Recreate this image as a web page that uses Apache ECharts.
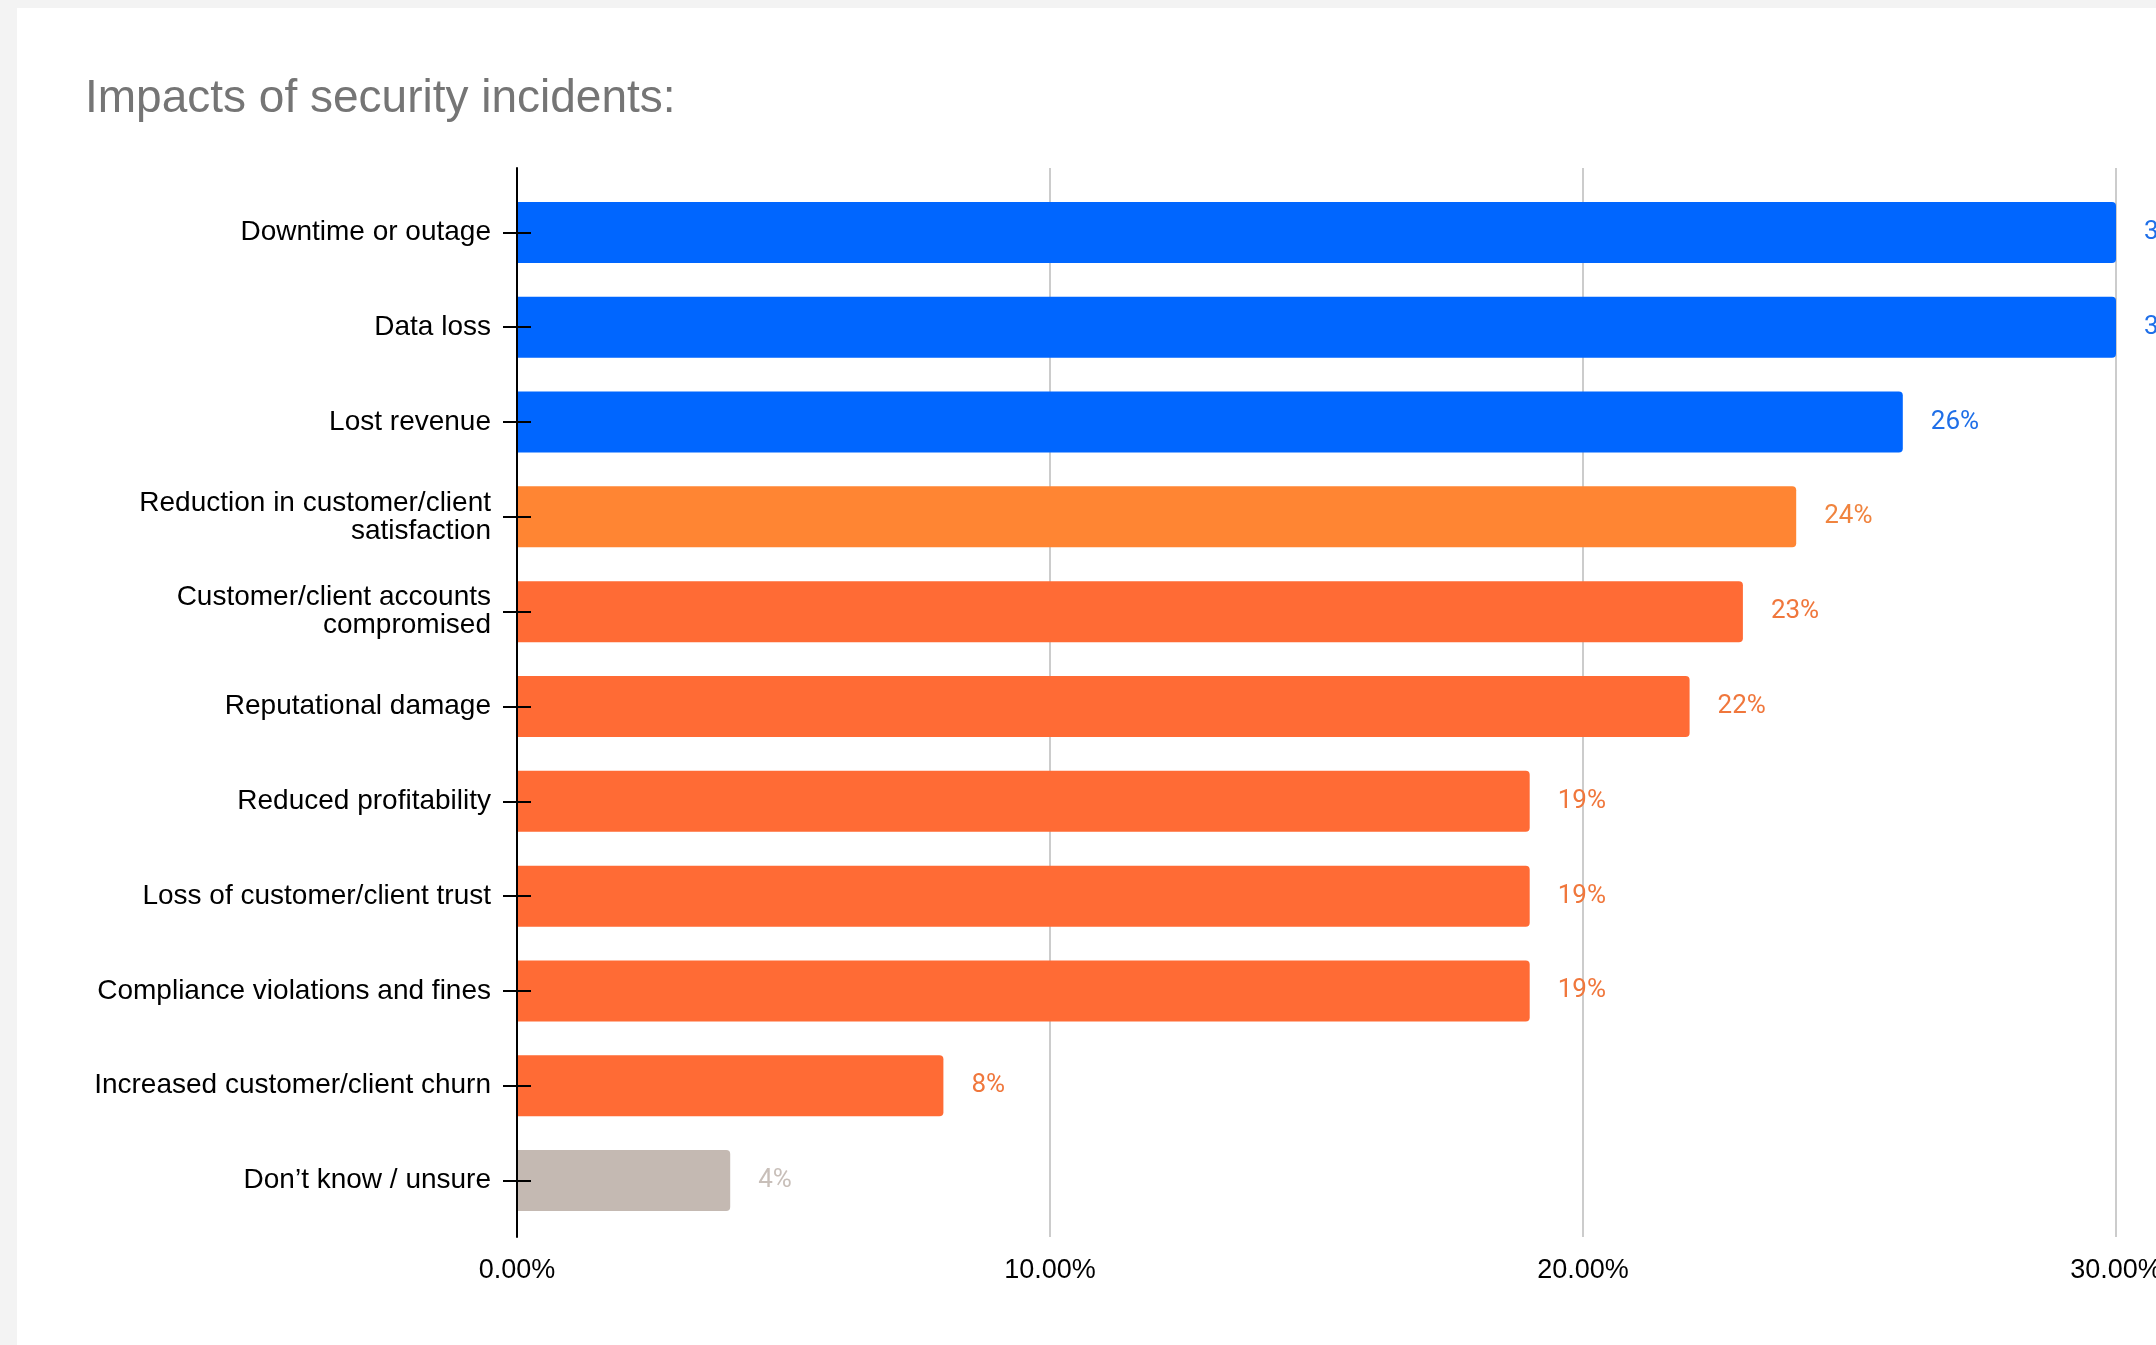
<!DOCTYPE html>
<html>
<head>
<meta charset="utf-8">
<script src="https://cdn.jsdelivr.net/npm/echarts@6/dist/echarts.min.js"></script>
<style>
  html, body { margin: 0; padding: 0; width: 2156px; height: 1345px; overflow: hidden; background: #f3f3f3; }
  #chart { position: absolute; left: 17px; top: 8px; width: 2300px; height: 1400px; background: #ffffff; }
</style>
</head>
<body>
<div id="chart"></div>
<script>
const titleText = 'Impacts of security incidents:';
const categories = [
  'Downtime or outage',
  'Data loss',
  'Lost revenue',
  'Reduction in customer/client\nsatisfaction',
  'Customer/client accounts\ncompromised',
  'Reputational damage',
  'Reduced profitability',
  'Loss of customer/client trust',
  'Compliance violations and fines',
  'Increased customer/client churn',
  'Don\u2019t know / unsure'
];
const values = [30, 30, 26, 24, 23, 22, 19, 19, 19, 8, 4];
const groups = ['blue', 'blue', 'blue', 'orangeLight', 'orange', 'orange', 'orange', 'orange', 'orange', 'orange', 'gray'];
const axisMin = 0, axisMax = 30, axisStep = 10;

const barColor = { blue: '#0066ff', orangeLight: '#ff8533', orange: '#ff6b35', gray: '#c4b9b2' };
const textColor = { blue: '#1f6fe8', orangeLight: '#f0843f', orange: '#f0773c', gray: '#c8bfb9' };

const chart = echarts.init(document.getElementById('chart'));
const font = "'Liberation Sans', Arial, sans-serif";

chart.setOption({
  animation: false,
  title: {
    text: titleText,
    left: 63, top: 63,
    textStyle: { fontFamily: font, fontSize: 46, fontWeight: 'normal', color: '#757575' }
  },
  grid: [
    { left: 500, top: 177, width: 1599, height: 1043 },
    { left: 500, top: 160, width: 1599, height: 1069 }
  ],
  xAxis: [
    { gridIndex: 0, type: 'value', min: axisMin, max: axisMax, interval: axisStep, show: false },
    {
      gridIndex: 1, type: 'value', min: axisMin, max: axisMax, interval: axisStep,
      axisLine: { show: false }, axisTick: { show: false },
      splitLine: { show: true, lineStyle: { color: '#cccccc', width: 2 } },
      axisLabel: { margin: 20, fontFamily: font, fontSize: 27, color: '#000',
        formatter: v => v.toFixed(2) + '%' }
    }
  ],
  yAxis: [
    {
      gridIndex: 0, type: 'category', data: categories, inverse: true,
      axisLine: { show: false },
      axisTick: { show: true, alignWithLabel: true, interval: 0, length: 14, lineStyle: { color: '#000', width: 2 } },
      axisLabel: { interval: 0, margin: 26, fontFamily: font, fontSize: 28, lineHeight: 28, color: '#000', align: 'right' }
    },
    {
      gridIndex: 0, type: 'category', data: categories, inverse: true,
      axisLine: { show: false },
      axisTick: { show: true, inside: true, alignWithLabel: true, interval: 0, length: 14, lineStyle: { color: '#000', width: 2 } },
      axisLabel: { show: false }, position: 'left', z: 10
    },
    {
      gridIndex: 1, type: 'value', min: 0, max: 1,
      axisLine: { show: true, lineStyle: { color: '#000', width: 2 } },
      axisTick: { show: false }, axisLabel: { show: false }, splitLine: { show: false }, z: 10
    }
  ],
  series: [{
    type: 'bar', xAxisIndex: 0, yAxisIndex: 0,
    barWidth: 61,
    data: values.map((v, i) => ({
      value: v,
      itemStyle: { color: barColor[groups[i]], borderRadius: [0, 4, 4, 0] },
      label: { color: textColor[groups[i]] }
    })),
    label: {
      show: true, position: 'right', distance: 28,
      fontFamily: "Roboto, 'Liberation Sans', sans-serif", fontSize: 26,
      formatter: p => p.value + '%'
    }
  }]
});
</script>
</body>
</html>
